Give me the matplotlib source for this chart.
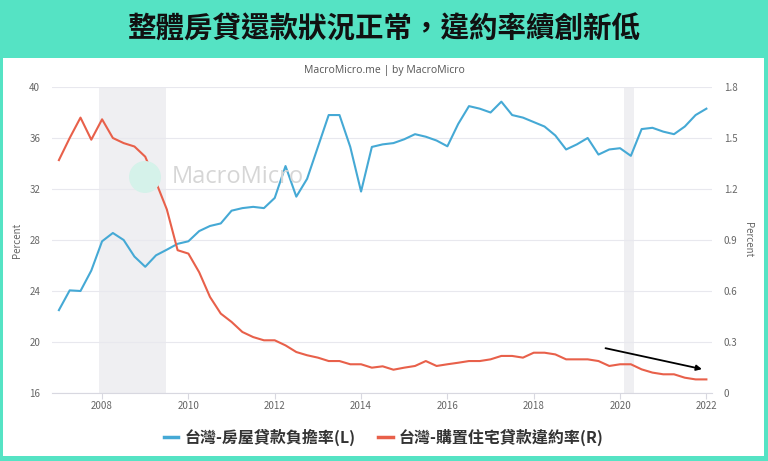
import numpy as np
import matplotlib.pyplot as plt
from matplotlib.patches import Rectangle, Circle
from matplotlib.transforms import IdentityTransform

plt.rcParams['font.family'] = ['Noto Sans CJK TC', 'DejaVu Sans']

# quarterly, 2007Q1 .. 2022Q1
quarters = np.arange(2007.0, 2022.01, 0.25)

burden_ratio = [22.5, 24.05, 24.0, 25.6, 27.9, 28.55, 28.0, 26.7, 25.9, 26.8,
                27.24, 27.7, 27.9, 28.7, 29.1, 29.3, 30.3, 30.5, 30.6, 30.5,
                31.3, 33.8, 31.4, 32.8, 35.3, 37.8, 37.8, 35.3, 31.8, 35.3,
                35.5, 35.6, 35.9, 36.3, 36.1, 35.8, 35.35, 37.1, 38.5, 38.3,
                38.0, 38.85, 37.8, 37.6, 37.25, 36.9, 36.2, 35.1, 35.5, 36.0,
                34.7, 35.1, 35.2, 34.6, 36.7, 36.8, 36.5, 36.3, 36.9, 37.8,
                38.3]

default_rate = [1.37, 1.5, 1.62, 1.49, 1.61, 1.5, 1.47, 1.45, 1.39, 1.24,
                1.08, 0.84, 0.82, 0.71, 0.565, 0.467, 0.418, 0.359, 0.329, 0.31,
                0.31, 0.28, 0.241, 0.222, 0.208, 0.188, 0.188, 0.169, 0.169, 0.149,
                0.157, 0.137, 0.149, 0.159, 0.188, 0.159, 0.169, 0.178, 0.188, 0.188,
                0.198, 0.218, 0.218, 0.208, 0.237, 0.237, 0.227, 0.198, 0.198, 0.198,
                0.188, 0.159, 0.169, 0.169, 0.139, 0.12, 0.11, 0.11, 0.09, 0.08,
                0.08]

recessions = [(2007.92, 2009.48), (2020.08, 2020.33)]
year_ticks = list(range(2008, 2023, 2))
left_ticks = [16, 20, 24, 28, 32, 36, 40]
right_ticks = [0, 0.3, 0.6, 0.9, 1.2, 1.5, 1.8]

title = "整體房貸還款狀況正常，違約率續創新低"
source = "MacroMicro.me | by MacroMicro"
label_l = "台灣-房屋貸款負擔率(L)"
label_r = "台灣-購置住宅貸款違約率(R)"

BLUE = "#45a9d5"
RED = "#e8604a"
TEAL = "#55e3c4"
GRID = "#e8e8ee"
TICK = "#666666"

fig = plt.figure(figsize=(7.68, 4.61), dpi=100)
fig.patch.set_facecolor(TEAL)

# white panel
W, H = 768, 461
fig.add_artist(Rectangle((3 / W, 1 - 456 / H), 761 / W, 398 / H,
                         transform=fig.transFigure, facecolor="white",
                         edgecolor="none", zorder=0))

fig.text(0.5, 1 - 30 / H, title, ha="center", va="center",
         fontsize=20.5, fontweight="bold", color="#111111")
fig.text(0.5, 1 - 70 / H, source, ha="center", va="center",
         fontsize=7.5, color="#555555", family=["Open Sans", "DejaVu Sans"])

ax = fig.add_axes([52 / W, 1 - 393 / H, 660 / W, 306 / H])
ax.set_facecolor("none")
ax2 = ax.twinx()

for a, b in recessions:
    ax.axvspan(a, b, color="#efeff2", zorder=0, lw=0)

ax.plot(quarters, burden_ratio, color=BLUE, lw=1.5, zorder=3)
ax2.plot(quarters, default_rate, color=RED, lw=1.5, zorder=3)

ax.set_xlim(2006.84, 2022.13)
ax.set_ylim(16, 40)
ax2.set_ylim(0, 1.8)
ax.set_xticks(year_ticks)
ax.set_yticks(left_ticks)
ax2.set_yticks(right_ticks)
ax2.set_yticklabels(["0", "0.3", "0.6", "0.9", "1.2", "1.5", "1.8"])
ax.grid(axis="y", color=GRID, lw=0.8)
ax.set_axisbelow(True)

for a in (ax, ax2):
    for s in a.spines.values():
        s.set_visible(False)
    a.tick_params(labelsize=7, colors=TICK, length=0, pad=8.5)
ax.spines["bottom"].set_visible(True)
ax.spines["bottom"].set_color("#d8d8e0")
ax.tick_params(axis="x", length=4, color="#d8d8e0", pad=2)

ax.set_ylabel("Percent", fontsize=7, color=TICK)
ax.yaxis.set_label_coords(-0.0455, 0.5)
ax2.set_ylabel("Percent", fontsize=7, color=TICK, rotation=-90, va="center")
ax2.yaxis.set_label_coords(1.0545, 0.5)

# watermark
fig.add_artist(Circle((145, H - 177), 16, transform=IdentityTransform(),
                      facecolor="#d5f2ea", edgecolor="none", zorder=0.5))
fig.text(238 / W, 1 - 177 / H, "MacroMicro", ha="center", va="center",
         fontsize=17, color="#d6d6d6", family=["Open Sans", "DejaVu Sans"],
         zorder=0.5)

# trend arrow
ax2.annotate("", xy=(2021.96, 0.137), xytext=(2019.6, 0.267),
             arrowprops=dict(arrowstyle="-|>", color="black", lw=1.3,
                             mutation_scale=8), zorder=5)

# legend
handles = [plt.Line2D([], [], color=BLUE, lw=2.5),
           plt.Line2D([], [], color=RED, lw=2.5)]
fig.legend(handles, [label_l, label_r], loc="center",
           bbox_to_anchor=(0.5, 1 - 437 / H), ncol=2, frameon=False,
           handlelength=0.9, handletextpad=0.4, columnspacing=1.4,
           prop={"size": 11.5, "weight": "bold",
                 "family": ["Noto Sans CJK TC", "DejaVu Sans"]},
           labelcolor="#333333")

fig.savefig("out.png", dpi=100, facecolor=fig.get_facecolor())
